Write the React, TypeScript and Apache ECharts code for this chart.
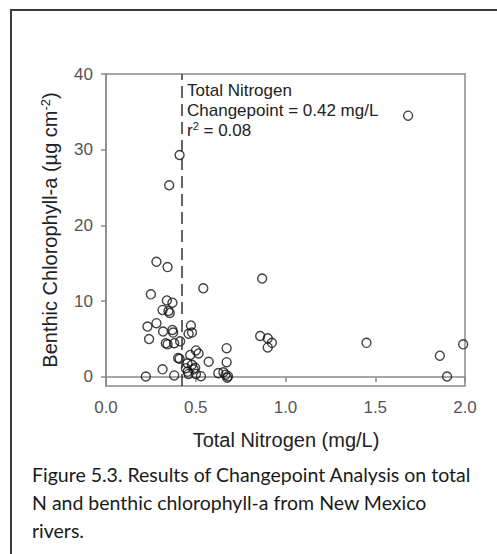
import React, { useEffect, useRef } from "react";
import * as echarts from "echarts";

// Total nitrogen (mg/L) and benthic chlorophyll-a (µg cm-2) per site
const nitrogen: number[] = [
  0.352, 0.41, 1.683, 0.281, 0.343, 0.25, 0.542, 0.339, 0.37, 0.315,
  0.348, 0.355, 0.281, 0.231, 0.318, 0.37, 0.374, 0.473, 0.479, 0.46,
  0.24, 0.333, 0.343, 0.38, 0.413, 0.501, 0.516, 0.469, 0.402, 0.41,
  0.572, 0.672, 0.672, 0.454, 0.479, 0.445, 0.488, 0.315, 0.38, 0.222,
  0.46, 0.501, 0.529, 0.626, 0.654, 0.666, 0.68, 0.675, 0.87, 0.859,
  0.901, 0.924, 0.901, 1.451, 1.86, 1.9, 1.99, 0.497, 0.455,
];
const chlorophyll: number[] = [
  25.3, 29.3, 34.5, 15.2, 14.5, 10.9, 11.7, 10.1, 9.8, 8.85,
  8.7, 8.45, 7.1, 6.65, 6.0, 6.2, 5.85, 6.8, 5.85, 5.7,
  5.0, 4.45, 4.3, 4.45, 4.7, 3.5, 3.1, 2.9, 2.5, 2.4,
  2.0, 3.8, 1.95, 1.8, 1.6, 1.15, 1.0, 1.0, 0.2, 0.05,
  0.4, 0.4, 0.1, 0.5, 0.6, 0.3, 0.1, -0.1, 13.0, 5.4,
  5.1, 4.5, 3.9, 4.5, 2.8, 0.05, 4.3, 1.2, 0.7,
];

const changepoint = 0.42;
const rSquared = "0.08";
const yTicks: number[] = [0, 10, 20, 30, 40];

const xAxisTitle = "Total Nitrogen (mg/L)";
const captionLines: string[] = [
  "Figure 5.3. Results of Changepoint Analysis on total",
  "N and benthic chlorophyll-a from New Mexico",
  "rivers.",
];

const FONT = "'Liberation Sans', Arial, sans-serif";

export default function App() {
  const ref = useRef<HTMLDivElement>(null);

  useEffect(() => {
    if (!ref.current) return;
    const chart = echarts.init(ref.current, undefined, { renderer: "svg" });
    const points = nitrogen.map((x, i) => [x, chlorophyll[i]]);
    const axisGray = "#8a8a8a";

    chart.setOption({
      animation: false,
      backgroundColor: "#ffffff",
      textStyle: { fontFamily: FONT },
      grid: {
        left: 106,
        right: 32,
        top: 74,
        bottom: 168,
        show: true,
        borderColor: axisGray,
        borderWidth: 1.5,
        containLabel: false,
      },
      xAxis: {
        type: "value",
        min: 0,
        max: 2,
        interval: 0.5,
        axisLine: { show: true, lineStyle: { color: axisGray, width: 1.5 } },
        axisTick: { show: true, inside: false, length: 5, lineStyle: { color: axisGray, width: 1.5 } },
        axisLabel: {
          margin: 13,
          color: "#555",
          fontSize: 17,
          fontFamily: FONT,
          formatter: (v: number) => v.toFixed(1),
        },
        splitLine: { show: false },
      },
      yAxis: {
        type: "value",
        min: -1.2,
        max: 40,
        axisLine: { show: true, lineStyle: { color: axisGray, width: 1.5 } },
        axisTick: {
          show: true,
          inside: false,
          length: 5,
          customValues: yTicks,
          lineStyle: { color: axisGray, width: 1.5 },
        },
        axisLabel: {
          margin: 13,
          color: "#555",
          fontSize: 17,
          fontFamily: FONT,
          customValues: yTicks,
        },
        splitLine: { show: false },
      },
      series: [
        {
          type: "scatter",
          data: points,
          symbol: "circle",
          symbolSize: 9,
          itemStyle: {
            color: "rgba(0,0,0,0)",
            borderColor: "#111",
            borderWidth: 1.4,
          },
          markLine: {
            silent: true,
            symbol: ["none", "none"],
            label: { show: false },
            lineStyle: { type: [12, 6], color: "#333", width: 1.5 },
            data: [{ xAxis: changepoint }],
          },
        },
      ],
      graphic: [
        // page frame
        { type: "line", shape: { x1: 10, y1: 10, x2: 497, y2: 10 }, style: { stroke: "#3a3a3a", lineWidth: 2 } },
        { type: "line", shape: { x1: 11, y1: 10, x2: 11, y2: 554 }, style: { stroke: "#3a3a3a", lineWidth: 2 } },
        // changepoint annotation
        {
          type: "text",
          x: 187,
          y: 80,
          style: {
            text: `Total Nitrogen\nChangepoint = ${changepoint} mg/L\nr{sup|2} = ${rSquared}`,
            font: `17px ${FONT}`,
            fill: "#222",
            lineHeight: 20,
            align: "left",
            verticalAlign: "top",
            rich: {
              sup: { fontSize: 11, fontFamily: FONT, verticalAlign: "top", lineHeight: 20, fill: "#222" },
            },
          },
        },
        // y-axis title
        {
          type: "text",
          x: 50,
          y: 230,
          rotation: Math.PI / 2,
          style: {
            text: "Benthic Chlorophyll-a (µg cm{sup|-2})",
            font: `20px ${FONT}`,
            fill: "#222",
            align: "center",
            verticalAlign: "middle",
            lineHeight: 23,
            rich: {
              sup: { fontSize: 13, fontFamily: FONT, verticalAlign: "top", lineHeight: 23, fill: "#222" },
            },
          },
        },
        // x-axis title
        {
          type: "text",
          x: 286,
          y: 440,
          style: {
            text: xAxisTitle,
            font: `20px ${FONT}`,
            fill: "#222",
            align: "center",
            verticalAlign: "middle",
          },
        },
        // caption
        ...captionLines.map((line, i) => ({
          type: "text",
          x: 32,
          y: 474 + i * 28,
          style: {
            text: line,
            font: `19.5px Lato, 'Open Sans', sans-serif`,
            fill: "#1a1a1a",
            align: "left",
            verticalAlign: "middle",
          },
        })),
      ],
    });

    return () => chart.dispose();
  }, []);

  return (
    <div
      ref={ref}
      style={{ position: "fixed", left: 0, top: 0, width: 497, height: 554, background: "#fff" }}
    />
  );
}
